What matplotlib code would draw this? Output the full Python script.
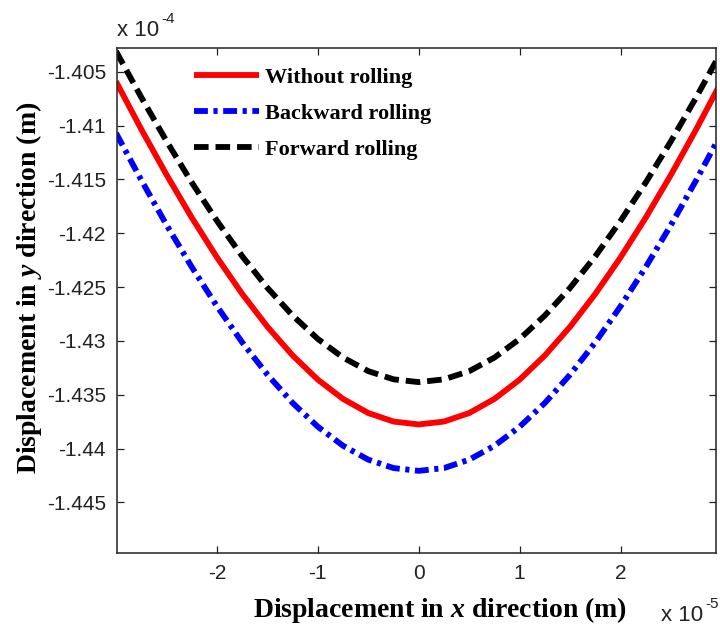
import matplotlib

matplotlib.use("Agg")

import matplotlib.pyplot as plt
from matplotlib.ticker import FixedLocator, FuncFormatter

# x in units of 1e-5 m, y in units of 1e-4 m
x_pos = [-3.0, -2.75, -2.5, -2.25, -2.0, -1.75, -1.5, -1.25, -1.0, -0.75, -0.5, -0.25,
         0.0, 0.25, 0.5, 0.75, 1.0, 1.25, 1.5, 1.75, 2.0, 2.25, 2.5, 2.75, 3.0]

half_red = [-1.40591, -1.41034, -1.41456, -1.41854, -1.42224, -1.42563, -1.42868,
            -1.43135, -1.43360, -1.43539, -1.43670, -1.43749, -1.43776]
half_blue = [-1.41070, -1.41506, -1.41922, -1.42313, -1.42678, -1.43013, -1.43313,
             -1.43576, -1.43797, -1.43974, -1.44103, -1.44181, -1.44207]
half_black = [-1.40310, -1.40737, -1.41144, -1.41528, -1.41885, -1.42213, -1.42507,
              -1.42764, -1.42982, -1.43155, -1.43281, -1.43357, -1.43383]

without_rolling = half_red + half_red[-2::-1]
backward_rolling = half_blue + half_blue[-2::-1]
forward_rolling = half_black + half_black[-2::-1]

x_ticks = [-2, -1, 0, 1, 2]
y_ticks = [-1.405, -1.41, -1.415, -1.42, -1.425, -1.43, -1.435, -1.44, -1.445]

plt.rcParams["lines.scale_dashes"] = False
plt.rcParams["mathtext.fontset"] = "custom"
plt.rcParams["mathtext.it"] = "Liberation Serif:italic:bold"
plt.rcParams["mathtext.rm"] = "Liberation Serif:bold"

fig = plt.figure(figsize=(7.2, 6.29), dpi=100)
ax = fig.add_axes([0.1625, 0.1208, 0.8326, 0.8029])

ax.plot(x_pos, without_rolling, color="#ff0000", linewidth=4.2, solid_capstyle="butt",
        solid_joinstyle="round", label="Without rolling")
ax.plot(x_pos, backward_rolling, color="#0000ff", linewidth=4.2,
        linestyle=(0, (10.0, 4.0, 3.0, 4.0)), label="Backward rolling")
ax.plot(x_pos, forward_rolling, color="#000000", linewidth=4.2,
        linestyle=(0, (10.5, 5.0)), label="Forward rolling")

ax.set_xlim(-2.99, 2.95)
ax.set_ylim(-1.4497, -1.4028)
ax.xaxis.set_major_locator(FixedLocator(x_ticks))
ax.yaxis.set_major_locator(FixedLocator(y_ticks))
ax.yaxis.set_major_formatter(FuncFormatter(lambda v, p: f"{v:g}"))
ax.xaxis.set_major_formatter(FuncFormatter(lambda v, p: f"{v:g}"))
ax.tick_params(direction="in", length=5, width=0.9, top=True, right=True,
               labelsize=15, pad=8, colors="#222222")
for label in ax.get_xticklabels() + ax.get_yticklabels():
    label.set_fontfamily("Liberation Sans")
for spine in ax.spines.values():
    spine.set_linewidth(1.1)
    spine.set_color("#222222")

ax.set_xlabel("Displacement in $x$ direction (m)", fontsize=20, fontweight="bold",
              fontfamily="Liberation Serif")
ax.set_ylabel("Displacement in $y$ direction (m)", fontsize=20, fontweight="bold",
              fontfamily="Liberation Serif")
ax.xaxis.set_label_coords(0.539, -0.083)
ax.yaxis.set_label_coords(-0.122, 0.525)

# MATLAB-style exponent labels
fig.text(117 / 720, 1 - 36 / 629, "x 10", fontsize=16, fontfamily="Liberation Sans",
         ha="left", va="baseline", color="#222222")
fig.text(161 / 720, 1 - 23 / 629, "-4", fontsize=11, fontfamily="Liberation Sans",
         ha="left", va="baseline", color="#222222")
fig.text(661 / 720, 1 - 621 / 629, "x 10", fontsize=16, fontfamily="Liberation Sans",
         ha="left", va="baseline", color="#222222")
fig.text(705 / 720, 1 - 608 / 629, "-5", fontsize=11, fontfamily="Liberation Sans",
         ha="left", va="baseline", color="#222222")

leg = ax.legend(loc="upper left", bbox_to_anchor=(0.113, 0.979), frameon=False,
                handlelength=2.95, handletextpad=0.25, labelspacing=0.7, borderaxespad=0,
                prop={"family": "Liberation Serif", "weight": "bold", "size": 16})

fig.savefig("out.png", dpi=100)
